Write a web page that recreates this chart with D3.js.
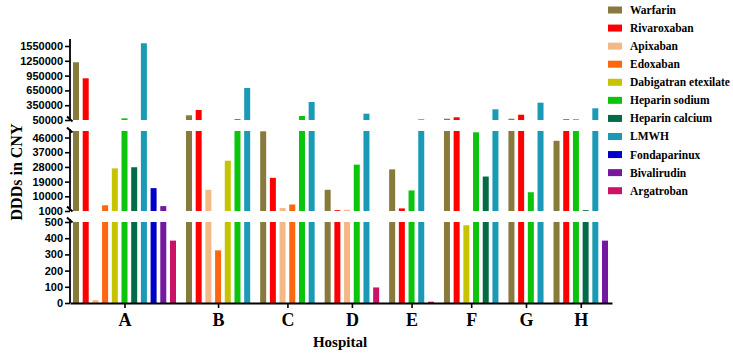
<!DOCTYPE html>
<html>
<head>
<meta charset="utf-8">
<script src="https://cdn.jsdelivr.net/npm/d3@7"></script>
<style>
  body { margin: 0; background: #fff; }
  svg { display: block; }
</style>
</head>
<body>
<div id="chart"></div>
<script>
// hospitals and drugs
var hospitals = ["A", "B", "C", "D", "E", "F", "G", "H"]
var drugs = ["Warfarin", "Rivaroxaban", "Apixaban", "Edoxaban", "Dabigatran etexilate",
  "Heparin sodium", "Heparin calcium", "LMWH", "Fondaparinux", "Bivalirudin", "Argatroban"]
var drugColors = ["#877a3c", "#ff0000", "#f4b886", "#ff660d", "#c4c400",
  "#0dc40d", "#036b45", "#1a9ab4", "#0000c8", "#7418a0", "#cc1166"]

// DDDs per hospital (A..H), null = drug not used
var warfarin       = [1220000, 145000, 49800, 14000, 26500, 76000, 76000, 44000]
var rivaroxaban    = [895000, 253000, 21300, 1500, 2600, 105000, 157000, 64000]
var apixaban       = [18, 14000, 2800, 1700, null, null, null, null]
var edoxaban       = [4500, 325, 5000, null, null, null, null, null]
var dabigatran     = [27100, 31800, null, null, null, 480, null, null]
var heparinSodium  = [84000, 70000, 131000, 29400, 13600, 49200, 12500, 64000]
var heparinCalcium = [27800, null, null, null, null, 22100, null, 1500]
var lmwh           = [1605000, 699000, 415000, 178000, 64000, 267000, 401000, 287000]
var fondaparinux   = [15000, null, null, null, null, null, null, null]
var bivalirudin    = [4000, null, null, null, null, null, null, 385]
var argatroban     = [385, null, null, 96, 8, null, null, null]
var seriesValues = [warfarin, rivaroxaban, apixaban, edoxaban, dabigatran,
  heparinSodium, heparinCalcium, lmwh, fondaparinux, bivalirudin, argatroban]

var topTicks = [50000, 350000, 650000, 950000, 1250000, 1550000]
var midTicks = [1000, 10000, 19000, 28000, 37000, 46000]
var botTicks = [0, 100, 200, 300, 400, 500]

var width = 733, height = 356
var groupGap = 0.65
var barWidth = 6

// lay out bars: one slot per used drug, extra gap between hospitals
var bars = []
var groupCenters = []
var slot = 0
hospitals.forEach(function(h, hi) {
  var first = slot
  drugs.forEach(function(d, di) {
    var v = seriesValues[di][hi]
    if (v == null) return
    bars.push({hospital: h, drug: d, di: di, value: v, slot: slot})
    slot += 1
  })
  groupCenters.push({hospital: h, slot: (first + slot - 1) / 2})
  slot += groupGap
})

var svg = d3.select("#chart").append("svg")
  .attr("width", width)
  .attr("height", height)

var xScale = d3.scaleLinear()
  .domain([-0.62, 55.27])
  .range([70, 612])

// broken y axis: three segments
var segments = [
  {scale: d3.scaleLinear().domain([0, 500]).range([303, 222]), lo: 0, hi: 500, ticks: botTicks, top: 219},
  {scale: d3.scaleLinear().domain([1000, 50000]).range([211, 131]), lo: 1000, hi: 50000, ticks: midTicks, top: 129},
  {scale: d3.scaleLinear().domain([50000, 1550000]).range([120, 46]), lo: 50000, hi: Infinity, ticks: topTicks, top: 39}
]

var barLayer = svg.append("g")
segments.forEach(function(seg) {
  var segBars = bars.filter(d => d.value > seg.lo)
  barLayer.selectAll(null)
    .data(segBars).enter()
    .append("rect")
    .attr("x", d => xScale(d.slot) - barWidth / 2)
    .attr("width", barWidth)
    .attr("y", d => seg.scale(Math.min(d.value, seg.hi)))
    .attr("height", d => seg.scale(seg.lo) - seg.scale(Math.min(d.value, seg.hi)))
    .attr("fill", d => drugColors[d.di])
})

// y axes
segments.forEach(function(seg) {
  var g = svg.append("g")
    .attr("transform", "translate(70,0)")
    .call(d3.axisLeft(seg.scale).tickValues(seg.ticks).tickSize(5).tickSizeOuter(0).tickFormat(d3.format("d")))
  g.select(".domain").remove()
  g.selectAll(".tick line").attr("stroke", "#000").attr("stroke-width", 1.6)
  g.selectAll(".tick text")
    .attr("x", -7)
    .style("font-family", "'Liberation Sans', Arial, sans-serif")
    .style("font-weight", "bold")
    .style("font-size", "11px")
    .attr("fill", "#000")
  var y0 = seg.scale(seg.lo)
  svg.append("line")
    .attr("x1", 70).attr("x2", 70)
    .attr("y1", y0).attr("y2", seg.top)
    .attr("stroke", "#000").attr("stroke-width", 1.8)
})

// break marks
var breaks = [119, 130, 209, 220]
svg.selectAll(".brk")
  .data(breaks).enter()
  .append("line")
  .attr("class", "brk")
  .attr("x1", 67).attr("x2", 72.5)
  .attr("y1", d => d - 2.5).attr("y2", d => d + 2.5)
  .attr("stroke", "#000").attr("stroke-width", 2)

// x axis
var xAxis = svg.append("g")
  .attr("transform", "translate(0,303)")
  .call(d3.axisBottom(xScale)
    .tickValues(groupCenters.map(d => d.slot))
    .tickFormat((d, i) => groupCenters[i].hospital)
    .tickSize(5).tickSizeOuter(0))
xAxis.select(".domain").attr("stroke", "#000").attr("stroke-width", 1.8)
xAxis.selectAll(".tick line").attr("stroke", "#000").attr("stroke-width", 1.6)
xAxis.selectAll(".tick text")
  .attr("y", 10)
  .style("font-family", "'Liberation Serif', 'Times New Roman', serif")
  .style("font-weight", "bold")
  .style("font-size", "18px")
  .attr("fill", "#000")

// axis titles
svg.append("text")
  .attr("x", 340).attr("y", 347)
  .attr("text-anchor", "middle")
  .style("font-family", "'Liberation Serif', 'Times New Roman', serif")
  .style("font-weight", "bold")
  .style("font-size", "15px")
  .text("Hospital")

svg.append("text")
  .attr("transform", "translate(22,172) rotate(-90)")
  .attr("text-anchor", "middle")
  .style("font-family", "'Liberation Serif', 'Times New Roman', serif")
  .style("font-weight", "bold")
  .style("font-size", "16px")
  .text("DDDs in CNY")

// legend
var legend = svg.append("g")
  .selectAll("g")
  .data(drugs).enter()
  .append("g")
  .attr("transform", (d, i) => `translate(608, ${10 + i * 18.07})`)

legend.append("rect")
  .attr("x", 0).attr("y", -3.5)
  .attr("width", 14).attr("height", 7)
  .attr("fill", (d, i) => drugColors[i])

legend.append("text")
  .attr("x", 22).attr("y", 4)
  .style("font-family", "'Liberation Serif', 'Times New Roman', serif")
  .style("font-weight", "bold")
  .style("font-size", "11.5px")
  .text(d => d)
</script>
</body>
</html>
